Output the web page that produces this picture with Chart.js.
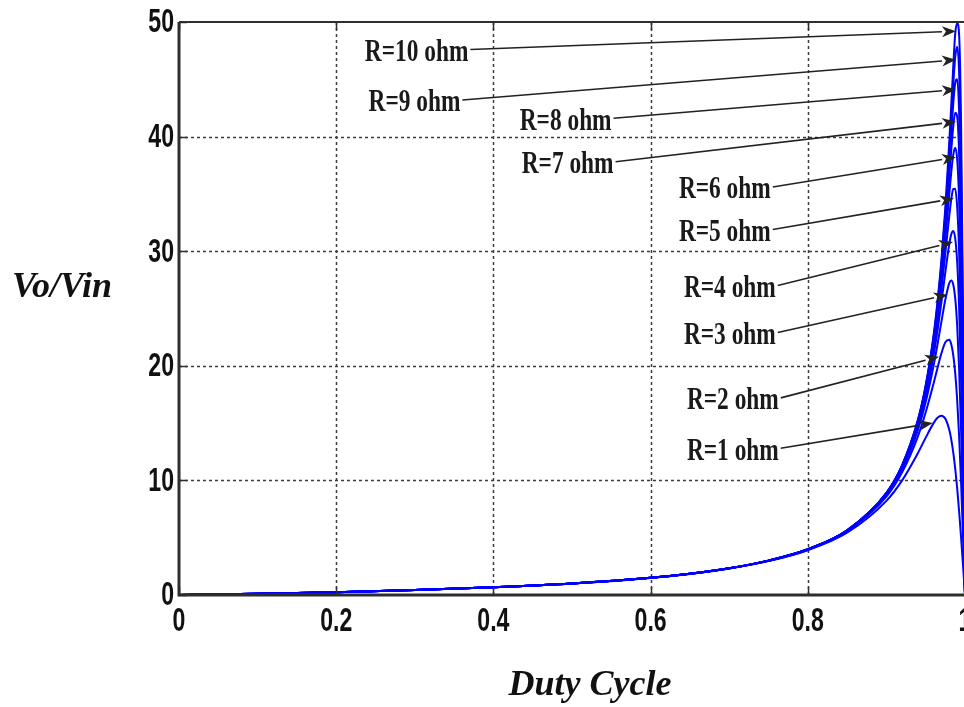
<!DOCTYPE html>
<html><head><meta charset="utf-8">
<script src="https://cdn.jsdelivr.net/npm/chart.js@4/dist/chart.umd.min.js"></script>
<style>html,body{margin:0;padding:0;background:#fff;overflow:hidden}#wrap{width:964px;height:707px;position:relative;overflow:hidden}</style>
</head><body><div id="wrap"><canvas id="c" width="972" height="707"></canvas></div>
<script>
// ---- data ----
const duty = [0,0.1,0.2,0.3,0.4,0.5,0.6,0.65,0.7,0.75,0.8,0.85,0.9,0.92,0.94,0.95,0.96,0.965,0.97,0.975,0.98,0.9825,0.985,0.9875,0.99,0.9925,0.995,0.9975,1];
const vR1  = [0,0.11,0.25,0.43,0.67,1.0,1.49,1.84,2.31,2.96,3.91,5.43,8.21,10.0,12.37,13.73,15.0,15.46,15.65,15.38,14.41,13.58,12.47,11.06,9.34,7.32,5.05,2.58,0];
const vR2  = [0,0.11,0.25,0.43,0.67,1.0,1.5,1.85,2.32,2.98,3.95,5.55,8.59,10.70,13.82,15.94,18.46,19.81,21.09,22.06,22.27,21.87,20.96,19.40,17.07,13.88,9.85,5.13,0];
const vR3  = [0,0.11,0.25,0.43,0.67,1.0,1.5,1.85,2.33,2.99,3.97,5.59,8.72,10.95,14.39,16.84,20.0,21.86,23.85,25.79,27.22,27.45,27.11,25.92,23.57,19.78,14.42,7.64,0];
const vR4  = [0,0.11,0.25,0.43,0.67,1.0,1.5,1.86,2.33,3.0,3.98,5.61,8.79,11.08,14.69,17.34,20.87,23.05,25.53,28.18,30.63,31.47,31.77,31.15,29.12,25.13,18.77,10.13,0];
const vR5  = [0,0.11,0.25,0.43,0.67,1.0,1.5,1.86,2.33,3.0,3.98,5.62,8.83,11.17,14.87,17.64,21.43,23.84,26.65,29.83,33.11,34.50,35.43,35.45,33.90,29.99,22.93,12.58,0];
const vR6  = [0,0.11,0.25,0.43,0.67,1.0,1.5,1.86,2.33,3.0,3.99,5.63,8.86,11.22,15.0,17.86,21.82,24.39,27.45,31.05,35.0,36.87,38.38,39.03,38.08,34.42,26.89,15.0,0];
const vR7  = [0,0.11,0.25,0.43,0.67,1.0,1.5,1.86,2.33,3.0,3.99,5.63,8.88,11.26,15.09,18.01,22.11,24.80,28.06,31.99,36.50,38.78,40.82,42.09,41.77,38.52,30.71,17.41,0];
const vR8  = [0,0.11,0.25,0.43,0.67,1.0,1.5,1.86,2.33,3.0,3.99,5.64,8.89,11.29,15.16,18.13,22.33,25.11,28.53,32.72,37.69,40.33,42.83,44.68,45.0,42.23,34.31,19.75,0];
const vR9  = [0,0.11,0.25,0.43,0.67,1.0,1.5,1.86,2.33,3.0,3.99,5.64,8.90,11.31,15.21,18.22,22.50,25.36,28.90,33.30,38.66,41.60,44.50,46.89,47.83,45.60,37.69,22.02,0];
const vR10 = [0,0.11,0.25,0.43,0.67,1.0,1.5,1.86,2.33,3.0,3.99,5.64,8.91,11.33,15.26,18.30,22.64,25.57,29.22,33.81,39.52,42.73,46.03,48.94,49.9,48.89,41.12,24.39,0];
const seriesNames = ['R=1 ohm','R=2 ohm','R=3 ohm','R=4 ohm','R=5 ohm','R=6 ohm','R=7 ohm','R=8 ohm','R=9 ohm','R=10 ohm'];
const seriesValues = [vR1,vR2,vR3,vR4,vR5,vR6,vR7,vR8,vR9,vR10];
const xTickValues = [0,0.2,0.4,0.6,0.8,1];
const xTickLabels = ['0','0.2','0.4','0.6','0.8','1'];
const yTickValues = [0,10,20,30,40,50];
const yTickLabels = ['0','10','20','30','40','50'];
const xTitle = 'Duty Cycle';
const yTitle = 'Vo/Vin';
// annotation arrows: label tail point and arrow tip, in data units (duty, Vo/Vin)
const arrowFrom = [[0.7656,12.8],[0.7656,17.2],[0.7618,22.9],[0.7618,27.0],[0.7554,31.9],[0.7554,35.6],[0.5554,37.8],[0.5529,41.6],[0.3605,43.2],[0.3707,47.6]];
const arrowTo   = [[0.959,15.0],[0.967,20.8],[0.978,26.2],[0.9847,30.8],[0.986,34.6],[0.9885,38.2],[0.9885,41.3],[0.9885,44.1],[0.9885,46.7],[0.9885,49.2]];

const BLUE = '#0000ff';
const decor = {
  id: 'decor',
  beforeDatasetsDraw(chart) {
    const {ctx, chartArea: a, scales: {x, y}} = chart;
    ctx.save();
    ctx.strokeStyle = '#3c3c3c'; ctx.lineWidth = 1.5; ctx.setLineDash([3, 3]);
    xTickValues.forEach(v => {
      if (v <= 0 || v >= 1) return;
      const px = Math.round(x.getPixelForValue(v)) + 0.5;
      ctx.beginPath(); ctx.moveTo(px, a.top); ctx.lineTo(px, a.bottom); ctx.stroke();
    });
    yTickValues.forEach(v => {
      if (v <= 0 || v >= 50) return;
      const py = Math.round(y.getPixelForValue(v)) + 0.5;
      ctx.beginPath(); ctx.moveTo(a.left, py); ctx.lineTo(a.right, py); ctx.stroke();
    });
    ctx.restore();
  },
  afterDatasetsDraw(chart) {
    const {ctx, chartArea: a, scales: {x, y}} = chart;
    ctx.save();
    // frame
    ctx.setLineDash([]);
    ctx.strokeStyle = '#2e2e2e';
    ctx.lineWidth = 3;
    ctx.beginPath(); ctx.moveTo(a.left, a.top); ctx.lineTo(a.left, a.bottom); ctx.lineTo(a.right, a.bottom); ctx.stroke();
    ctx.lineWidth = 2;
    ctx.beginPath(); ctx.moveTo(a.left, a.top); ctx.lineTo(a.right, a.top); ctx.lineTo(a.right, a.bottom); ctx.stroke();
    // inward ticks
    ctx.lineWidth = 1.5;
    xTickValues.forEach(v => {
      const px = Math.round(x.getPixelForValue(v)) + 0.5;
      ctx.beginPath(); ctx.moveTo(px, a.bottom); ctx.lineTo(px, a.bottom - 8); ctx.moveTo(px, a.top); ctx.lineTo(px, a.top + 8); ctx.stroke();
    });
    yTickValues.forEach(v => {
      const py = Math.round(y.getPixelForValue(v)) + 0.5;
      ctx.beginPath(); ctx.moveTo(a.left, py); ctx.lineTo(a.left + 8, py); ctx.stroke();
    });
    // tick labels
    ctx.fillStyle = '#111';
    ctx.font = 'bold 34px "Liberation Sans", Arial, sans-serif';
    ctx.textBaseline = 'top'; ctx.textAlign = 'center';
    xTickValues.forEach((v, i) => {
      ctx.save(); ctx.translate(x.getPixelForValue(v), a.bottom + 10); ctx.scale(0.68, 1);
      ctx.fillText(xTickLabels[i], 0, 0); ctx.restore();
    });
    ctx.textBaseline = 'middle'; ctx.textAlign = 'right';
    yTickValues.forEach((v, i) => {
      ctx.save(); ctx.translate(a.left - 5, y.getPixelForValue(v) + 1); ctx.scale(0.68, 1);
      ctx.fillText(yTickLabels[i], 0, 0); ctx.restore();
    });
    // axis titles
    ctx.font = 'bold italic 36px "Liberation Serif", "Times New Roman", serif';
    ctx.textBaseline = 'alphabetic';
    ctx.textAlign = 'left'; ctx.fillText(yTitle, 12, 297);
    ctx.textAlign = 'center'; ctx.fillText(xTitle, 590, 695);
    // annotations
    ctx.strokeStyle = '#222'; ctx.fillStyle = '#222'; ctx.lineWidth = 1.6;
    seriesNames.forEach((name, i) => {
      const x0 = x.getPixelForValue(arrowFrom[i][0]), y0 = y.getPixelForValue(arrowFrom[i][1]);
      const x1 = x.getPixelForValue(arrowTo[i][0]), y1 = y.getPixelForValue(arrowTo[i][1]);
      const ang = Math.atan2(y1 - y0, x1 - x0), L = 14, W = 5.5;
      const bx = x1 - L * Math.cos(ang), by = y1 - L * Math.sin(ang);
      ctx.beginPath(); ctx.moveTo(x0, y0); ctx.lineTo(bx, by); ctx.stroke();
      ctx.beginPath(); ctx.moveTo(x1, y1);
      ctx.lineTo(bx + W * Math.sin(ang), by - W * Math.cos(ang));
      ctx.lineTo(bx + 4 * Math.cos(ang), by + 4 * Math.sin(ang));
      ctx.lineTo(bx - W * Math.sin(ang), by + W * Math.cos(ang));
      ctx.closePath(); ctx.fill();
      ctx.save();
      ctx.font = 'bold 32px "Liberation Serif", "Times New Roman", serif';
      ctx.fillStyle = '#1a1a1a'; ctx.textAlign = 'right'; ctx.textBaseline = 'middle';
      ctx.translate(x0 - 2, y0 + 3); ctx.scale(0.73, 1);
      ctx.fillText(name, 0, 0);
      ctx.restore();
    });
    ctx.restore();
  }
};

new Chart(document.getElementById('c'), {
  type: 'line',
  data: {
    datasets: seriesValues.map((vals, i) => ({
      label: seriesNames[i],
      data: duty.map((d, k) => ({x: d, y: vals[k]})),
      borderColor: BLUE, borderWidth: 2, pointRadius: 0, fill: false,
      cubicInterpolationMode: 'monotone'
    }))
  },
  options: {
    responsive: false, animation: false, devicePixelRatio: 1,
    layout: {padding: {left: 0, right: 7, top: 22, bottom: 0}},
    plugins: {legend: {display: false}, tooltip: {enabled: false}},
    scales: {
      x: {type: 'linear', min: 0, max: 1, ticks: {display: false, stepSize: 0.2},
          grid: {display: false, drawTicks: false}, border: {display: false},
          afterFit(s) { s.height = 112; }},
      y: {type: 'linear', min: 0, max: 50, ticks: {display: false, stepSize: 10},
          grid: {display: false, drawTicks: false}, border: {display: false},
          afterFit(s) { s.width = 179; }}
    }
  },
  plugins: [decor]
});
</script></body></html>
